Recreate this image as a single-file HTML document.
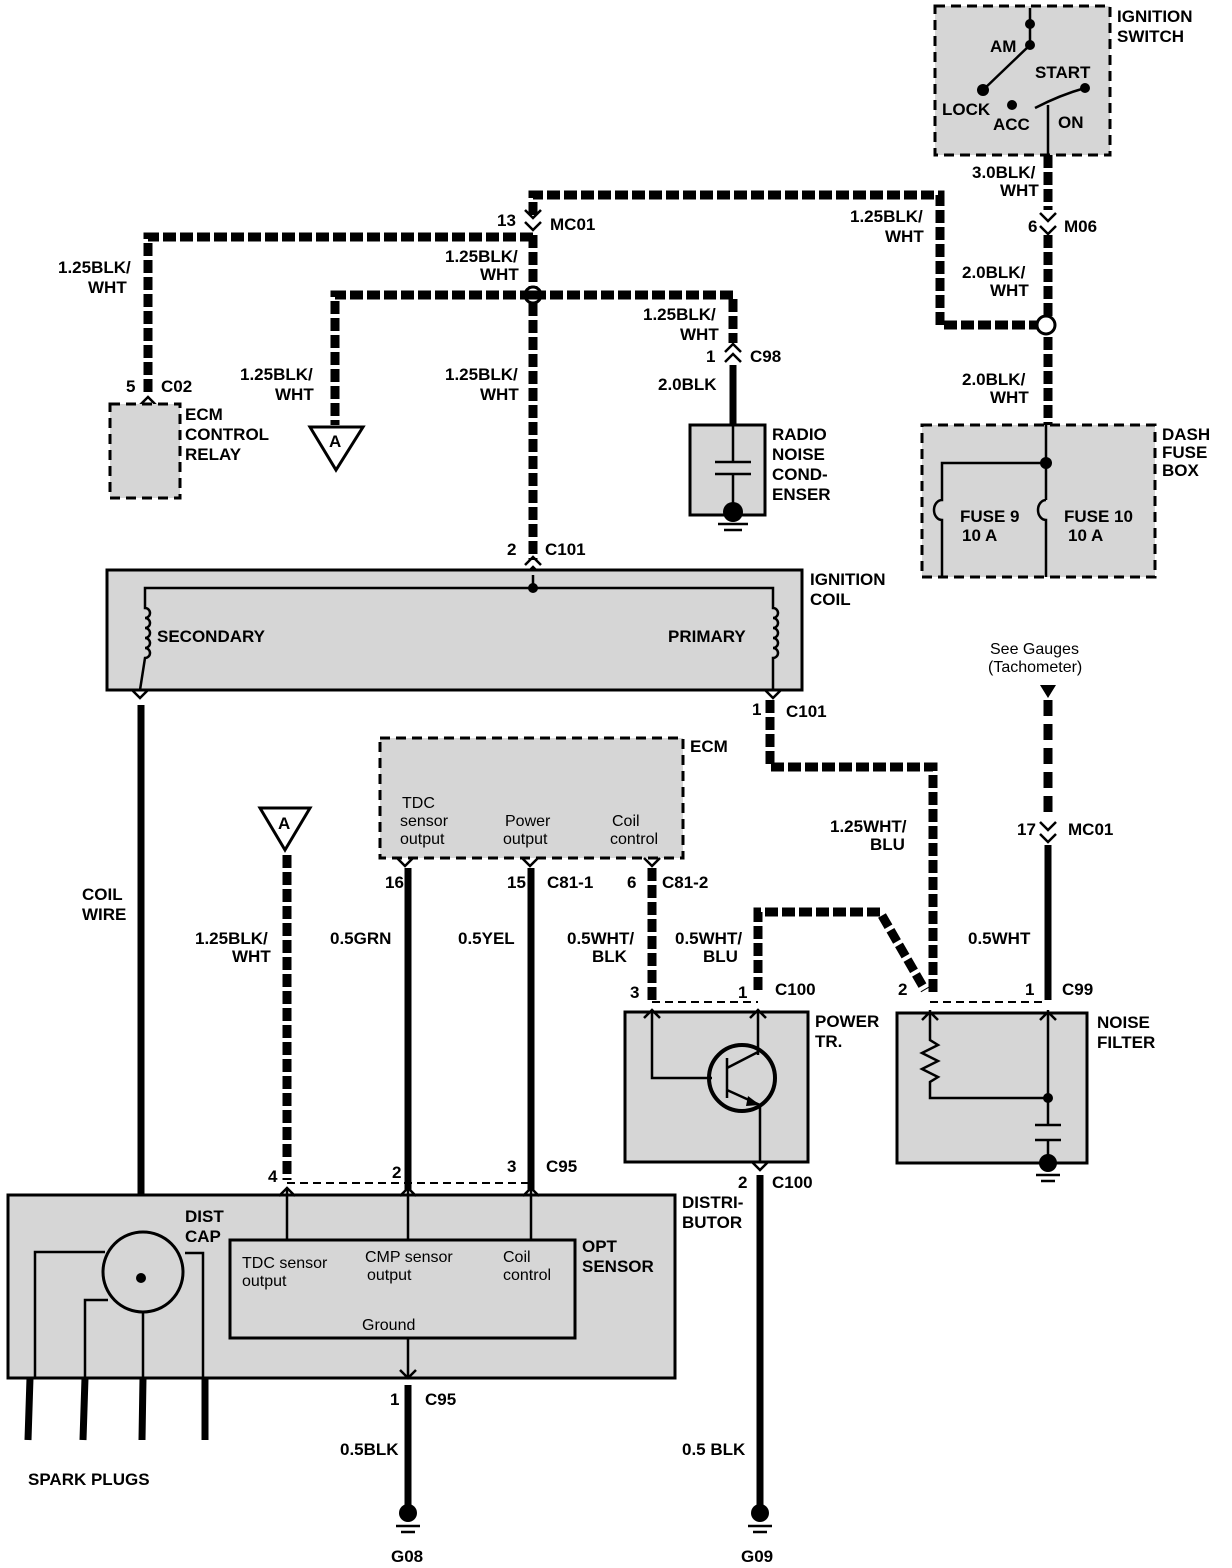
<!DOCTYPE html>
<html><head><meta charset="utf-8"><style>
html,body{margin:0;padding:0;background:#fff}
svg{display:block}
text{font-family:"Liberation Sans",Arial,sans-serif;font-weight:bold;font-size:17px;fill:#000}
.n{font-weight:normal;font-size:16px}
.s{fill:none;stroke:#000;stroke-width:9;stroke-dasharray:13 4}
.w{fill:none;stroke:#000;stroke-width:7}
.t{fill:none;stroke:#000;stroke-width:2.5}
.box{fill:#d6d6d6;stroke:#000;stroke-width:3}
.dbox{fill:#d6d6d6;stroke:#000;stroke-width:3;stroke-dasharray:10 6}
.dl{fill:none;stroke:#000;stroke-width:2;stroke-dasharray:8 5}
</style></head><body>
<svg width="1232" height="1568" viewBox="0 0 1232 1568" xmlns="http://www.w3.org/2000/svg">
<!-- Ignition switch -->
<rect class="dbox" x="935" y="6" width="175" height="149"/>
<text x="1117" y="22">IGNITION</text><text x="1117" y="42">SWITCH</text>
<text x="990" y="52">AM</text><text x="1035" y="78">START</text>
<text x="942" y="115">LOCK</text><text x="993" y="130">ACC</text><text x="1058" y="128">ON</text>
<path class="t" d="M1030 8 L1030 45 L983 90" stroke-width="4"/>
<circle cx="1030" cy="24" r="5"/><circle cx="1030" cy="45" r="5"/>
<circle cx="983" cy="90" r="6"/><circle cx="1012" cy="105" r="5"/>
<path class="t" d="M1035 108 Q1060 95 1085 88" stroke-width="5"/><circle cx="1085" cy="88" r="5"/>
<path class="t" d="M1048 105 L1048 155" stroke-width="3"/>
<path class="s" d="M1048 155 L1048 210"/>
<text x="972" y="178">3.0BLK/</text><text x="1000" y="196">WHT</text>
<path class="t" d="M1040 213 l8 8 l8 -8 M1040 226 l8 8 l8 -8" stroke-width="3"/>
<text x="1028" y="232">6</text><text x="1064" y="232">M06</text>
<path class="s" d="M1048 235 L1048 425"/>
<text x="962" y="278">2.0BLK/</text><text x="990" y="296">WHT</text>
<text x="962" y="385">2.0BLK/</text><text x="990" y="403">WHT</text>
<!-- top bus -->
<path class="s" d="M533 215 L533 195 L940 195 L940 325 L1046 325"/>
<circle cx="1046" cy="325" r="9" fill="#fff" stroke="#000" stroke-width="3"/>
<text x="850" y="222">1.25BLK/</text><text x="885" y="242">WHT</text>
<path class="t" d="M525 210 l8 8 l8 -8 M525 222 l8 8 l8 -8" stroke-width="3"/>
<text x="497" y="226">13</text><text x="550" y="230">MC01</text>
<path class="s" d="M533 235 L533 560"/>
<path class="s" d="M533 237 L148 237 L148 392"/>
<text x="58" y="273">1.25BLK/</text><text x="88" y="293">WHT</text>
<text x="445" y="262">1.25BLK/</text><text x="480" y="280">WHT</text>
<circle cx="533" cy="295" r="8" fill="#fff" stroke="#000" stroke-width="3"/>
<path class="s" d="M533 295 L335 295 L335 425"/>
<path class="s" d="M533 295 L733 295 L733 343"/>
<text x="240" y="380">1.25BLK/</text><text x="275" y="400">WHT</text>
<text x="445" y="380">1.25BLK/</text><text x="480" y="400">WHT</text>
<text x="643" y="320">1.25BLK/</text><text x="680" y="340">WHT</text>
<!-- ECM relay -->
<path class="t" d="M140 405 l8 -8 l8 8" stroke-width="3"/>
<text x="126" y="392">5</text><text x="161" y="392">C02</text>
<rect class="dbox" x="110" y="404" width="70" height="94"/>
<text x="185" y="420">ECM</text><text x="185" y="440">CONTROL</text><text x="185" y="460">RELAY</text>
<!-- A triangle -->
<path d="M310 427 L363 427 L336 470 Z" fill="#fff" stroke="#000" stroke-width="3"/>
<text x="329" y="447">A</text>
<!-- C98 condenser -->
<path class="t" d="M725 352 l8 -8 l8 8 M725 362 l8 -8 l8 8" stroke-width="3"/>
<text x="706" y="362">1</text><text x="750" y="362">C98</text>
<path class="w" d="M733 365 L733 428"/>
<text x="658" y="390">2.0BLK</text>
<rect class="box" x="690" y="425" width="75" height="90"/>
<path class="t" d="M733 425 L733 462 M715 462 L751 462 M715 474 L751 474 M733 474 L733 510"/>
<circle cx="733" cy="512" r="10"/><path class="t" d="M718 524 L748 524 M724 530 L742 530"/>
<text x="772" y="440">RADIO</text><text x="772" y="460">NOISE</text><text x="772" y="480">COND-</text><text x="772" y="500">ENSER</text>
<!-- Dash fuse box -->
<rect class="dbox" x="922" y="425" width="233" height="152"/>
<text x="1162" y="440">DASH</text><text x="1162" y="458">FUSE</text><text x="1162" y="476">BOX</text>
<circle cx="1046" cy="463" r="6"/>
<path class="t" d="M1046 425 L1046 500 M1046 500 a8 10 0 0 0 0 20 L1046 577"/>
<path class="t" d="M1046 463 L942 463 L942 500 a8 10 0 0 0 0 20 L942 577"/>
<text x="960" y="522">FUSE 9</text><text x="962" y="541">10 A</text>
<text x="1064" y="522">FUSE 10</text><text x="1068" y="541">10 A</text>
<!-- Ignition coil -->
<path class="t" d="M525 565 l8 -8 l8 8 M525 575 l8 -8 l8 8" stroke-width="3"/>
<text x="507" y="555">2</text><text x="545" y="555">C101</text>
<rect class="box" x="107" y="570" width="695" height="120"/>
<circle cx="533" cy="588" r="5"/>
<path class="t" d="M533 575 L533 588 L145 588 L145 608 a5 5 0 0 1 0 10 a5 5 0 0 1 0 10 a5 5 0 0 1 0 10 a5 5 0 0 1 0 10 a5 5 0 0 1 0 10 L140 690"/>
<path class="t" d="M533 588 L773 588 L773 608 a5 5 0 0 1 0 10 a5 5 0 0 1 0 10 a5 5 0 0 1 0 10 a5 5 0 0 1 0 10 a5 5 0 0 1 0 10 L773 690"/>
<text x="157" y="642">SECONDARY</text><text x="668" y="642">PRIMARY</text>
<text x="810" y="585">IGNITION</text><text x="810" y="605">COIL</text>
<path class="t" d="M132 690 l8 8 l8 -8 M765 690 l8 8 l8 -8" stroke-width="3"/>
<path class="w" d="M141 705 L141 1280"/>
<text x="82" y="900">COIL</text><text x="82" y="920">WIRE</text>
<text x="752" y="715">1</text><text x="786" y="717">C101</text>
<path class="s" d="M770 700 L770 767 L933 767 L933 995"/>
<text x="830" y="832">1.25WHT/</text><text x="870" y="850">BLU</text>
<!-- tach -->
<text x="990" y="654" class="n">See Gauges</text><text x="988" y="672" class="n">(Tachometer)</text>
<path d="M1040 685 L1056 685 L1048 698 Z"/>
<path d="M1048 700 L1048 818" stroke="#000" stroke-width="9" stroke-dasharray="16 8" fill="none"/>
<path class="t" d="M1040 822 l8 8 l8 -8 M1040 834 l8 8 l8 -8" stroke-width="3"/>
<text x="1017" y="835">17</text><text x="1068" y="835">MC01</text>
<path class="w" d="M1048 845 L1048 1000"/>
<text x="968" y="944">0.5WHT</text>
<!-- ECM box -->
<rect class="dbox" x="380" y="738" width="303" height="120" fill="#d6d6d6"/>
<text x="690" y="752">ECM</text>
<text class="n" x="402" y="808">TDC</text><text class="n" x="400" y="826">sensor</text><text class="n" x="400" y="844">output</text>
<text class="n" x="505" y="826">Power</text><text class="n" x="503" y="844">output</text>
<text class="n" x="612" y="826">Coil</text><text class="n" x="610" y="844">control</text>
<path class="t" d="M397 858 l8 8 l8 -8 M522 858 l8 8 l8 -8 M644 858 l8 8 l8 -8" stroke-width="3"/>
<text x="385" y="888">16</text><text x="507" y="888">15</text><text x="547" y="888">C81-1</text>
<text x="627" y="888">6</text><text x="662" y="888">C81-2</text>
<path class="w" d="M408 868 L408 1190 M531 868 L531 1190"/>
<path class="s" d="M652 868 L652 1000"/>
<text x="330" y="944">0.5GRN</text><text x="458" y="944">0.5YEL</text>
<text x="567" y="944">0.5WHT/</text><text x="592" y="962">BLK</text>
<text x="675" y="944">0.5WHT/</text><text x="703" y="962">BLU</text>
<path class="s" d="M758 990 L758 912 L880 912 L925 990"/>
<!-- A triangle 2 -->
<path d="M260 808 L310 808 L285 850 Z" fill="#fff" stroke="#000" stroke-width="3"/>
<text x="278" y="829">A</text>
<path class="s" d="M287 855 L287 1180"/>
<text x="195" y="944">1.25BLK/</text><text x="232" y="962">WHT</text>
<!-- power TR -->
<text x="630" y="998">3</text><text x="738" y="998">1</text><text x="775" y="995">C100</text>
<path class="dl" d="M652 1002 L758 1002"/>
<rect class="box" x="625" y="1012" width="183" height="150"/>
<path class="t" d="M644 1018 l8 -8 l8 8 M750 1018 l8 -8 l8 8" stroke-width="3"/>
<path class="t" d="M652 1010 L652 1078 L712 1078 M758 1010 L758 1055"/>
<circle cx="742" cy="1078" r="33" fill="none" stroke="#000" stroke-width="4"/>
<path class="t" d="M727 1058 L727 1098 M727 1068 L758 1052 M727 1090 L760 1105 L760 1162"/>
<path d="M760 1105 L748 1096 L746 1106 Z"/>
<text x="815" y="1027">POWER</text><text x="815" y="1047">TR.</text>
<path class="t" d="M752 1162 l8 8 l8 -8" stroke-width="3"/>
<text x="738" y="1188">2</text><text x="772" y="1188">C100</text>
<text x="682" y="1208">DISTRI-</text><text x="682" y="1228">BUTOR</text>
<path class="w" d="M760 1175 L760 1505"/>
<text x="682" y="1455">0.5 BLK</text>
<!-- noise filter -->
<text x="898" y="995">2</text><text x="1025" y="995">1</text><text x="1062" y="995">C99</text>
<path class="dl" d="M930 1002 L1046 1002"/>
<rect class="box" x="897" y="1013" width="190" height="150"/>
<path class="t" d="M922 1020 l8 -8 l8 8 M1040 1020 l8 -8 l8 8" stroke-width="3"/>
<path class="t" d="M930 1010 L930 1040 l8 5 l-16 8 l16 8 l-16 8 l16 8 l-8 5 L930 1098 L1048 1098 M1048 1010 L1048 1125 M1035 1125 L1061 1125 M1035 1140 L1061 1140 M1048 1140 L1048 1155"/>
<circle cx="1048" cy="1098" r="5"/><circle cx="1048" cy="1163" r="9"/>
<path class="t" d="M1036 1175 L1060 1175 M1041 1181 L1055 1181"/>
<text x="1097" y="1028">NOISE</text><text x="1097" y="1048">FILTER</text>
<!-- dist box -->
<text x="268" y="1182">4</text><text x="392" y="1178">2</text><text x="507" y="1172">3</text><text x="546" y="1172">C95</text>
<path class="dl" d="M287 1183 L531 1183"/>
<rect class="box" x="8" y="1195" width="667" height="183"/>
<path class="t" d="M279 1196 l8 -8 l8 8 M400 1196 l8 -8 l8 8 M523 1196 l8 -8 l8 8" stroke-width="3"/>
<path class="t" d="M287 1188 L287 1240 M408 1188 L408 1240 M531 1188 L531 1240"/>
<rect x="230" y="1240" width="345" height="98" fill="#d6d6d6" stroke="#000" stroke-width="3"/>
<text class="n" x="242" y="1268">TDC sensor</text><text class="n" x="242" y="1286">output</text>
<text class="n" x="365" y="1262">CMP sensor</text><text class="n" x="367" y="1280">output</text>
<text class="n" x="503" y="1262">Coil</text><text class="n" x="503" y="1280">control</text>
<text class="n" x="362" y="1330">Ground</text>
<text x="582" y="1252">OPT</text><text x="582" y="1272">SENSOR</text>
<text x="185" y="1222">DIST</text><text x="185" y="1242">CAP</text>
<circle cx="143" cy="1272" r="40" fill="none" stroke="#000" stroke-width="3"/>
<circle cx="141" cy="1278" r="5"/>
<path class="t" d="M35 1378 L35 1252 L105 1252 M85 1378 L85 1300 L108 1300 M143 1312 L143 1378 M185 1253 L203 1253 L203 1378"/>
<path class="w" d="M30 1378 L28 1440 M85 1378 L83 1440 M143 1378 L142 1440 M205 1378 L205 1440" stroke-width="8"/>
<text x="28" y="1485">SPARK PLUGS</text>
<path class="t" d="M408 1338 L408 1378 M400 1370 l8 8 l8 -8" stroke-width="3"/>
<text x="390" y="1405">1</text><text x="425" y="1405">C95</text>
<path class="w" d="M408 1385 L408 1505"/>
<text x="340" y="1455">0.5BLK</text>
<circle cx="408" cy="1513" r="9"/><path class="t" d="M396 1526 L420 1526 M401 1532 L415 1532"/>
<circle cx="760" cy="1513" r="9"/><path class="t" d="M748 1526 L772 1526 M753 1532 L767 1532"/>
<text x="391" y="1562">G08</text><text x="741" y="1562">G09</text>
</svg>
</body></html>
